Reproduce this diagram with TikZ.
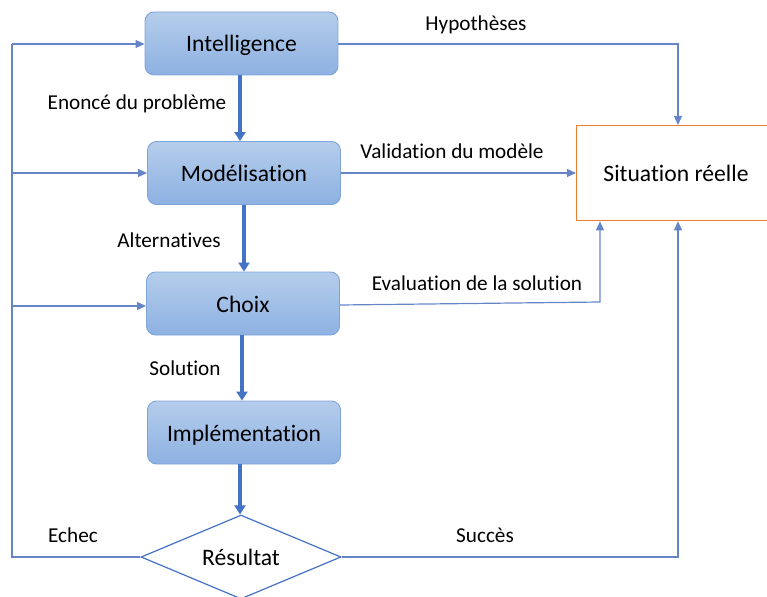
\documentclass[tikz,border=0pt]{standalone}
\usepackage{fontspec}
\setmainfont{Carlito}[Ligatures={NoCommon}]
\usetikzlibrary{shapes.geometric,arrows.meta,shadings}
\definecolor{boxtop}{HTML}{B5CDEB}
\definecolor{boxbot}{HTML}{8DB1E2}
\definecolor{boxline}{HTML}{7EA4D8}
\definecolor{flow}{HTML}{4472C4}
\definecolor{thin}{HTML}{6685C6}
\definecolor{orangeb}{HTML}{ED7D31}
\tikzset{
  bigtext/.style={font=\fontsize{23.6}{26}\selectfont, text height=19pt, text depth=2pt},
  stepbox/.style={draw=boxline, line width=0.9pt, rounded corners=9pt, top color=boxtop, bottom color=boxbot,
    minimum width=193pt, minimum height=63pt, inner sep=0pt, bigtext},
  thickarrow/.style={draw=flow, line width=3.8pt, -{Triangle[length=9pt,width=11pt]}},
  thinarrow/.style={draw=thin, line width=1.2pt, -{Triangle[length=9pt,width=8pt]}},
  thinline/.style={draw=thin, line width=1.2pt},
  lbl/.style={font=\fontsize{21.2}{24}\selectfont, inner sep=0pt, text height=16pt, text depth=2pt},
}
\begin{document}
\begin{tikzpicture}[x=1pt,y=-1pt]
\useasboundingbox (0,0) rectangle (767,596);
\node[stepbox] (intel) at (241.5,43.5) {Intelligence};
\node[stepbox] (model) at (244,173) {Modélisation};
\node[stepbox] (choix) at (243,303.5) {Choix};
\node[stepbox] (impl) at (244,432.5) {Implémentation};
\node[diamond, draw=flow, line width=1.2pt, fill=white, minimum width=200pt, minimum height=84pt, inner sep=0pt, aspect=2.4,
  bigtext] (res) at (241,557) {Résultat};
\node[draw=orangeb, line width=1.3pt, minimum width=200pt, minimum height=95pt, inner sep=0pt, anchor=north west] (sit) at (576,125) {};
\node[bigtext] (sittxt) at (676,173) {Situation réelle};

\coordinate (lt) at (12,44);
\coordinate (lm) at (12,173);
\coordinate (lc) at (12,306);
\coordinate (lb) at (12,557);
\coordinate (rt) at (678,44);
\coordinate (rb) at (678,557);
\coordinate (cb) at (600,302);

% main flow
\draw[thickarrow] (intel.south -| 240,0) -- (model.north -| 240,0);
\draw[thickarrow] (model.south -| 244,0) -- (choix.north -| 244,0);
\draw[thickarrow] (choix.south -| 242,0) -- (impl.north -| 242,0);
\draw[thickarrow] (impl.south -| 240,0) -- (res.north -| 240,0);

% left feedback
\draw[thinline] (res.west) -- (lb) -- (lt);
\draw[thinarrow] (lt) -- (intel.west |- lt);
\draw[thinarrow] (lm) -- (model.west |- lm);
\draw[thinarrow] (lc) -- (choix.west |- lc);

% right connectors
\draw[thinarrow] (intel.east |- rt) -- (rt) -- (sit.north -| rt);
\draw[thinarrow] (model.east) -- (sit.west |- model.east);
\draw[thinarrow] (choix.east |- 0,305) -- (cb) -- (sit.south -| cb);
\draw[thinarrow] (res.east) -- (rb) -- (sit.south -| rb);

% labels
\node[lbl] (l1) at (137,103) {Enoncé du problème};
\node[lbl] (l2) at (169,240) {Alternatives};
\node[lbl] (l3) at (185,368) {Solution};
\node[lbl] (l4) at (476,24) {Hypothèses};
\node[lbl] (l5) at (452,152) {Validation du modèle};
\node[lbl] (l6) at (477,283) {Evaluation de la solution};
\node[lbl] (l7) at (73,535) {Echec};
\node[lbl] (l8) at (485,535) {Succès};
\end{tikzpicture}
\end{document}
